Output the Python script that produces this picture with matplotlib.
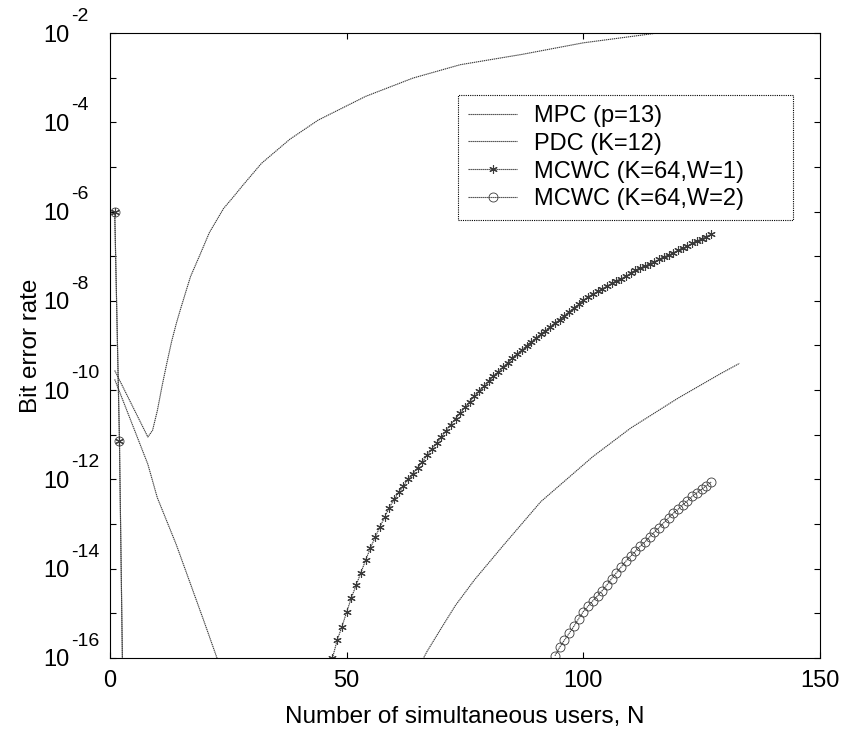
import numpy as np
import matplotlib
matplotlib.use('Agg')
import matplotlib.pyplot as plt

plt.rcParams['font.family'] = ['Liberation Sans', 'DejaVu Sans']
plt.rcParams['mathtext.default'] = 'regular'

# values are log10 of the bit error rate
mpc_n = [1, 8, 9, 10, 11, 12, 13, 14, 15, 17, 19, 21, 24, 26, 28, 32, 38, 44, 54, 64, 74,
         87, 100, 115, 125, 133]
mpc_exp = [-9.56, -11.05, -10.9, -10.46, -9.91, -9.40, -8.92, -8.51, -8.15, -7.46, -6.97,
           -6.47, -5.93, -5.68, -5.42, -4.92, -4.38, -3.95, -3.42, -3.01, -2.71, -2.48,
           -2.22, -2.01, -1.88, -1.78]

pdc_n = [1, 8, 10, 14, 20, 23, 30, 45, 60, 64, 67, 70, 73, 77, 83, 91, 102, 110, 120, 129, 133]
pdc_exp = [-9.76, -11.66, -12.41, -13.46, -15.22, -16.12, -18.0, -21.0, -17.5, -16.45,
           -15.85, -15.33, -14.82, -14.25, -13.49, -12.5, -11.49, -10.85, -10.18, -9.63, -9.4]

# MCWC: first three users, then a gap (zero BER, not drawn on a log axis)
mcwc_head_n = [1, 2, 3]
mcwc_head_exp = [-6.0, -11.13, -19.0]

w1_n = list(range(47, 128))
w1_exp = [-16.00, -15.60, -15.30, -14.97, -14.65, -14.37, -14.09, -13.81, -13.54, -13.30,
          -13.07, -12.85, -12.63, -12.45, -12.29, -12.14, -12.00, -11.87, -11.74, -11.60,
          -11.46, -11.32, -11.19, -11.05, -10.91, -10.77, -10.64, -10.51, -10.38, -10.26,
          -10.14, -10.02, -9.91, -9.80, -9.69, -9.59, -9.49, -9.39, -9.28, -9.19,
          -9.10, -9.01, -8.92, -8.84, -8.75, -8.67, -8.58, -8.50, -8.42, -8.33,
          -8.25, -8.16, -8.08, -7.99, -7.91, -7.85, -7.79, -7.73, -7.67, -7.61,
          -7.55, -7.50, -7.44, -7.38, -7.32, -7.27, -7.22, -7.17, -7.12, -7.07,
          -7.02, -6.97, -6.92, -6.87, -6.82, -6.77, -6.71, -6.66, -6.61, -6.56, -6.51]

w2_n = list(range(94, 128))
w2_exp = [-15.95, -15.76, -15.60, -15.45, -15.29, -15.12, -14.96, -14.84, -14.72, -14.61,
          -14.49, -14.36, -14.22, -14.09, -13.96, -13.83, -13.72, -13.61, -13.50, -13.40,
          -13.29, -13.18, -13.08, -12.97, -12.86, -12.76, -12.67, -12.57, -12.48, -12.38,
          -12.30, -12.22, -12.14, -12.06]

labels = ['MPC (p=13)', 'PDC (K=12)', 'MCWC (K=64,W=1)', 'MCWC (K=64,W=2)']
y_decades = list(range(-16, -1))


def ber(e):
    return 10.0 ** np.array(e, dtype=float)


fig = plt.figure(figsize=(8.48, 7.35), dpi=100)
ax = fig.add_axes([0.1297, 0.1048, 0.8373, 0.8503])

lc = '#3a3a3a'
ls = (0, (1.2, 0.6))
lw = 0.8

ax.plot(mpc_n, ber(mpc_exp), color=lc, linestyle=ls, linewidth=lw, label=labels[0])
ax.plot(pdc_n, ber(pdc_exp), color=lc, linestyle=ls, linewidth=lw, label=labels[1])

w1_all_n = mcwc_head_n + [np.nan] + w1_n
w1_all = list(ber(mcwc_head_exp)) + [np.nan] + list(ber(w1_exp))
ax.plot(w1_all_n, w1_all, color=lc, linestyle=ls, linewidth=lw, marker=(6, 2, 0),
        markersize=6, markeredgewidth=0.8, label=labels[2])

w2_all_n = mcwc_head_n + [np.nan] + w2_n
w2_all = list(ber(mcwc_head_exp)) + [np.nan] + list(ber(w2_exp))
ax.plot(w2_all_n, w2_all, color=lc, linestyle=ls, linewidth=lw, marker='o',
        markersize=6.5, markerfacecolor='none', markeredgewidth=0.6, label=labels[3])

ax.set_yscale('log')
ax.set_xlim(0, 150)
ax.set_ylim(1e-16, 1e-2)

ax.set_xticks([0, 50, 100, 150])
ax.set_yticks([10.0 ** k for k in y_decades])
ax.set_yticklabels(['10' if k % 2 == 0 else '' for k in y_decades])
ax.yaxis.set_minor_locator(matplotlib.ticker.NullLocator())

# MATLAB-style raised exponents next to the "10"
for k in y_decades:
    if k % 2 == 0:
        ax.annotate('%d' % k, xy=(0, 10.0 ** k), xycoords=('axes fraction', 'data'),
                    xytext=(-28, 12), textcoords='offset points', ha='left', va='center',
                    fontsize=14, annotation_clip=False)

ax.tick_params(which='both', direction='in', top=True, right=True, length=4, width=0.8,
               labelsize=17)
ax.tick_params(axis='x', pad=9)
ax.tick_params(axis='y', pad=28.8)
for s in ax.spines.values():
    s.set_linewidth(0.8)

ax.set_xlabel('Number of simultaneous users, N', fontsize=17.5, labelpad=10)
ax.set_ylabel('Bit error rate', fontsize=17.5, labelpad=1)

leg = ax.legend(loc='upper left', bbox_to_anchor=(0.490, 0.704, 0.472, 0.197), mode='expand',
                borderaxespad=0, fontsize=17, handlelength=2.1, handletextpad=0.7,
                borderpad=0.42, labelspacing=0.25, fancybox=False, framealpha=1)
fr = leg.get_frame()
fr.set_edgecolor('black')
fr.set_linewidth(0.8)
fr.set_linestyle((0, (1, 1)))

fig.savefig('out.png', dpi=100)
